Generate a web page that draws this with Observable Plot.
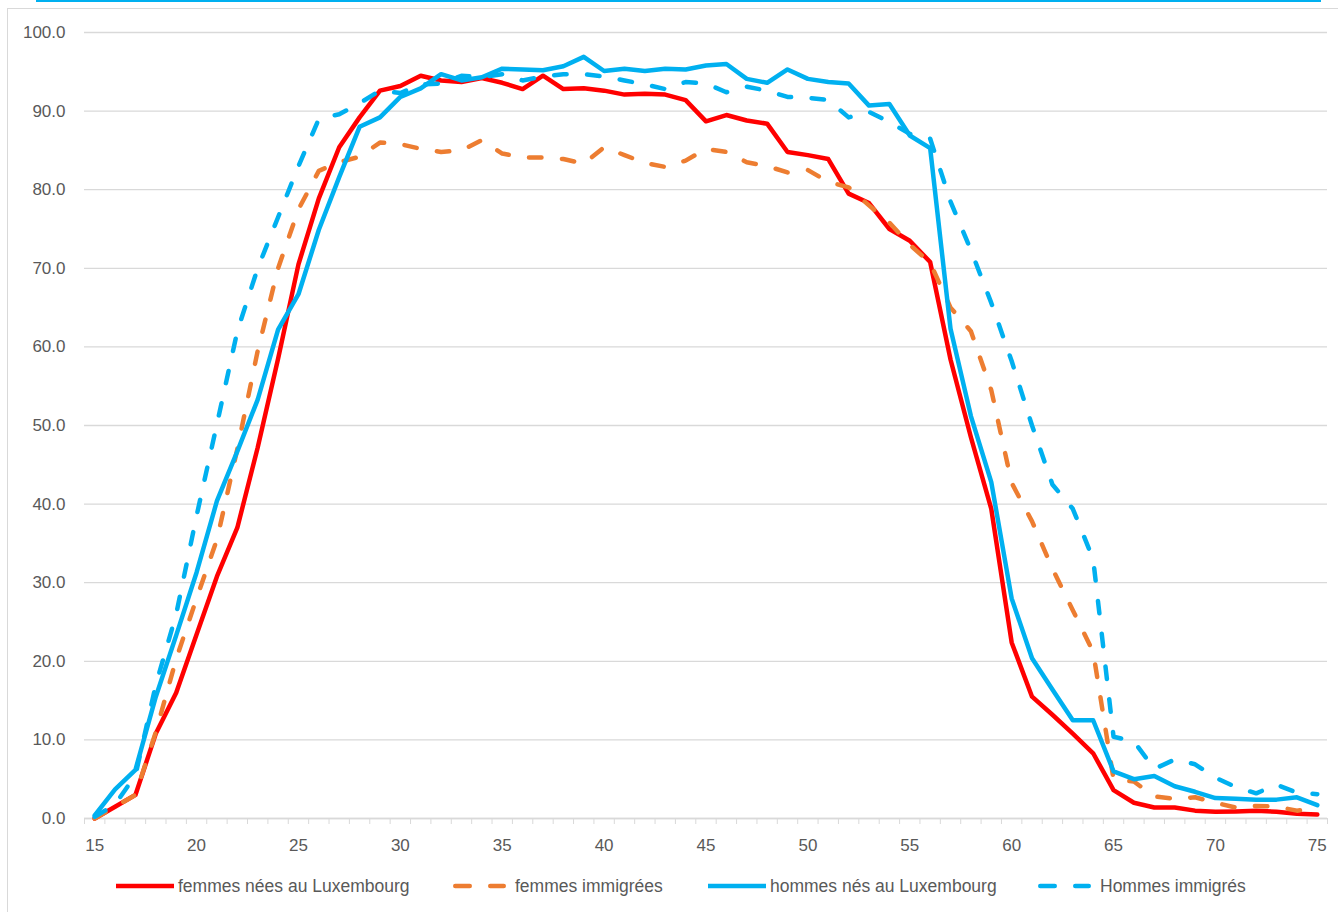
<!DOCTYPE html>
<html>
<head>
<meta charset="utf-8">
<script src="https://cdn.jsdelivr.net/npm/d3@7"></script>
<script src="https://cdn.jsdelivr.net/npm/@observablehq/plot@0.6"></script>
<style>
html, body { margin: 0; padding: 0; background: #fff; }
#wrap { position: relative; width: 1338px; height: 912px; overflow: hidden; font-family: "Liberation Sans", Arial, sans-serif; }
#frame { position: absolute; left: 7px; top: 8px; width: 1400px; height: 1000px; border-left: 1px solid #d9d9d9; border-top: 1px solid #d9d9d9; box-sizing: border-box; }
#topline { position: absolute; left: 36px; top: 0; width: 1285px; height: 2px; background: #00b0f0; }
#chart { position: absolute; left: 0; top: 0; }
#legend { position: absolute; left: 0; top: 855px; width: 1338px; height: 57px; }
.item { position: absolute; top: 21px; height: 20px; display: flex; align-items: center; white-space: nowrap; }
.item span { font-size: 17.5px; color: #595959; }
.item svg { display: block; }
</style>
</head>
<body>
<div id="wrap">
  <div id="frame"></div>
  <div id="topline"></div>
  <div id="chart"></div>
  <div id="legend"></div>
</div>
<script>
// Age categories
const ages = [15,16,17,18,19,20,21,22,23,24,25,26,27,28,29,30,31,32,33,34,35,36,37,38,39,40,
  41,42,43,44,45,46,47,48,49,50,51,52,53,54,55,56,57,58,59,60,61,62,63,64,65,66,67,68,69,70,
  71,72,73,74,75];
const xLabels = [15,20,25,30,35,40,45,50,55,60,65,70,75];
const yTicks = [0,10,20,30,40,50,60,70,80,90,100];

const seriesNames = ["femmes nées au Luxembourg", "femmes immigrées", "hommes nés au Luxembourg", "Hommes immigrés"];

const femmesNees = [0.0,1.5,3.0,10.8,16.0,23.4,30.8,37.0,47.2,58.5,70.5,78.9,85.4,89.2,92.6,93.2,
  94.5,93.9,93.7,94.2,93.6,92.8,94.5,92.8,92.9,92.6,92.1,92.2,92.1,91.4,88.7,89.5,88.8,88.4,84.8,
  84.4,83.9,79.5,78.3,75.0,73.5,70.8,58.4,48.5,39.4,22.4,15.5,13.2,10.8,8.3,3.6,2.0,1.4,1.4,1.0,
  0.85,0.9,1.0,0.85,0.6,0.5];

const femmesImmigrees = [0.0,1.5,3.0,11.0,20.3,28.0,35.5,47.0,59.5,70.0,77.5,82.4,83.5,84.2,86.0,
  85.8,85.2,84.8,85.0,86.3,84.6,84.1,84.1,83.9,83.3,85.4,84.4,83.4,82.9,83.7,85.2,84.8,83.5,83.0,
  82.2,82.5,81.0,80.3,78.0,75.8,73.0,70.7,65.0,62.0,54.5,42.7,37.8,31.8,26.5,21.2,5.0,4.7,2.8,2.5,
  2.7,2.0,1.4,1.6,1.5,1.0,1.3];

const hommesNes = [0.4,3.7,6.2,15.5,23.3,31.3,40.4,46.7,53.3,62.2,66.7,74.9,81.6,88.0,89.2,91.8,
  92.9,94.7,93.9,94.3,95.4,95.3,95.2,95.7,96.9,95.1,95.4,95.1,95.4,95.3,95.8,96.0,94.1,93.6,95.3,
  94.1,93.7,93.5,90.7,90.9,86.9,85.3,62.3,51.2,42.8,28.0,20.4,16.4,12.5,12.5,6.0,5.0,5.4,4.1,3.4,
  2.6,2.5,2.4,2.4,2.7,1.7];

const hommesImmigres = [0.2,1.8,5.5,17.0,26.0,38.5,50.2,62.0,70.0,76.5,83.0,89.0,89.6,91.0,92.6,
  92.3,93.4,93.5,94.5,94.3,94.7,93.9,94.4,94.7,94.7,94.4,93.9,93.4,92.8,93.7,93.5,92.4,93.1,92.6,
  91.8,91.7,91.4,89.2,89.9,88.6,87.1,86.5,78.5,72.3,65.6,58.2,50.0,42.5,39.4,33.0,10.4,9.8,6.3,
  7.5,6.9,5.2,4.0,3.2,4.3,3.3,3.1];

const seriesValues = [femmesNees, femmesImmigrees, hommesNes, hommesImmigres];
const seriesColors = ["#ff0000", "#ed7d31", "#00b0f0", "#00b0f0"];
const seriesDash = [null, "12.5,20.5", null, "12.5,20.5"];

const tickBounds = ages.map(a => a - 0.5).concat([ages[ages.length - 1] + 0.5]);

const lineMarks = seriesValues.map((vals, k) =>
  Plot.line(ages.map((a, i) => ({age: a, value: vals[i], series: seriesNames[k]})), {
    x: "age", y: "value",
    stroke: seriesColors[k],
    strokeWidth: 4.5,
    strokeDasharray: seriesDash[k] || undefined,
    strokeLinecap: "round",
    strokeLinejoin: "round"
  })
);

const chart = Plot.plot({
  width: 1338,
  height: 855,
  marginLeft: 84,
  marginRight: 11,
  marginTop: 32,
  marginBottom: 37,
  x: {type: "linear", domain: [tickBounds[0], tickBounds[tickBounds.length - 1]]},
  y: {domain: [0, 100]},
  style: {fontFamily: '"Liberation Sans", Arial, sans-serif', fontSize: "17px", color: "#595959", background: "transparent", overflow: "visible"},
  marks: [
    Plot.gridY(yTicks, {stroke: "#d9d9d9", strokeOpacity: 1, strokeWidth: 1.3}),
    Plot.axisY(yTicks, {tickSize: 0, tickPadding: 19, tickFormat: d => d.toFixed(1), label: null, fill: "#595959"}),
    Plot.axisX(tickBounds, {tickSize: 6, tickFormat: () => "", stroke: "#d9d9d9", strokeOpacity: 1, label: null}),
    Plot.axisX(xLabels, {tickSize: 0, tickPadding: 20, tickFormat: d => String(d), label: null, fill: "#595959"}),
    Plot.ruleY([0], {stroke: "#d9d9d9", strokeWidth: 1.3}),
    ...lineMarks
  ]
});
document.getElementById("chart").appendChild(chart);

// Legend (HTML, below the chart)
const legendPos = [116, 453, 708, 1038];
const legend = document.getElementById("legend");
seriesNames.forEach((name, k) => {
  const item = document.createElement("div");
  item.className = "item";
  item.style.left = legendPos[k] + "px";
  const dashed = !!seriesDash[k];
  const w = dashed ? 53 : 58;
  const svg = d3.create("svg").attr("width", w).attr("height", 20);
  svg.append("line")
    .attr("x1", 2.25).attr("x2", w - 2.25).attr("y1", 10).attr("y2", 10)
    .attr("stroke", seriesColors[k]).attr("stroke-width", 4.5)
    .attr("stroke-linecap", dashed ? "round" : "butt")
    .attr("stroke-dasharray", dashed ? "14.5,20.5" : null);
  if (!dashed) svg.select("line").attr("x1", 0).attr("x2", w);
  item.appendChild(svg.node());
  const span = document.createElement("span");
  span.textContent = name;
  span.style.marginLeft = (dashed ? 9 : 4) + "px";
  item.appendChild(span);
  legend.appendChild(item);
});
</script>
</body>
</html>
